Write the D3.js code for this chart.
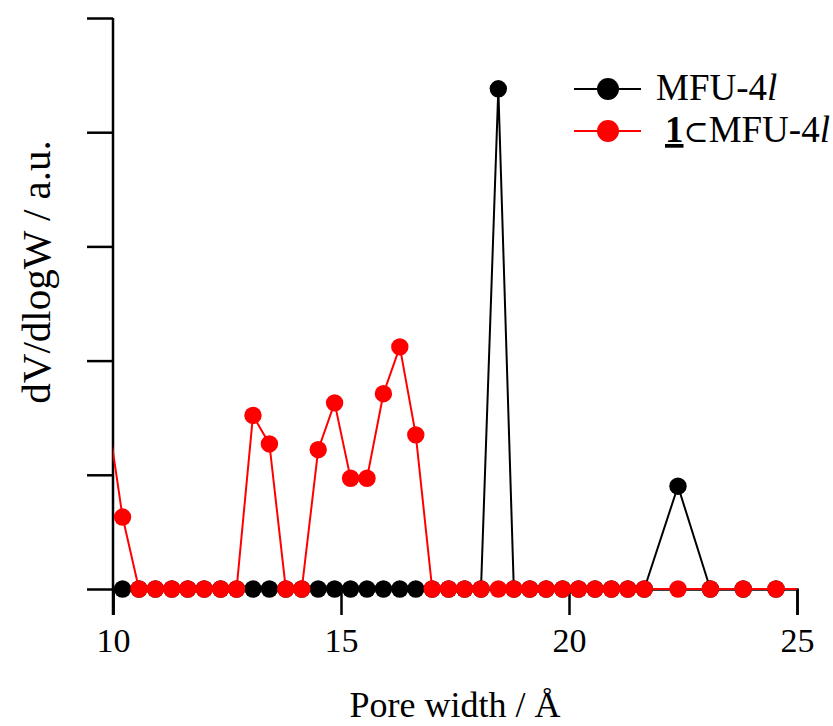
<!DOCTYPE html>
<html>
<head>
<meta charset="utf-8">
<script src="https://cdn.jsdelivr.net/npm/d3@7"></script>
<style>
  html, body { margin: 0; padding: 0; background: #fff; }
  svg { display: block; }
  svg text { font-family: "Liberation Serif", "Times New Roman", serif; fill: #000; }
</style>
</head>
<body>
<svg id="chart" width="833" height="726"></svg>
<script>
// ---- data ----
const poreWidth = [9.86, 10.21, 10.57, 10.93, 11.29, 11.64, 12.00, 12.36, 12.71, 13.07,
  13.43, 13.79, 14.14, 14.50, 14.86, 15.21, 15.57, 15.93, 16.29, 16.64,
  17.00, 17.36, 17.71, 18.07, 18.45, 18.79, 19.14, 19.50, 19.86, 20.21,
  20.57, 20.93, 21.29, 21.65, 22.39, 23.10, 23.82, 24.54, 25.25];
const mfu4l = [0, 0, 0, 0, 0, 0, 0, 0, 0, 0,
  0, 0, 0, 0, 0, 0, 0, 0, 0, 0,
  0, 0, 0, 0, 4.38, 0, 0, 0, 0, 0,
  0, 0, 0, 0, 0.90, 0, 0, 0, 0];
const oneInMfu4l = [1.58, 0.63, 0, 0, 0, 0, 0, 0, 0, 1.52,
  1.27, 0, 0, 1.22, 1.63, 0.97, 0.97, 1.71, 2.12, 1.35,
  0, 0, 0, 0, 0, 0, 0, 0, 0, 0,
  0, 0, 0, 0, 0, 0, 0, 0, 0];
const xTicks = [10, 15, 20, 25];
const yTicks = [0, 1, 2, 3, 4, 5];
const xDomain = [10, 25];
const yDomain = [0, 5];

// ---- layout ----
const mLeft = 113, mRight = 797, mTop = 18, mBottom = 589;
const svg = d3.select("#chart");
const x = d3.scaleLinear().domain(xDomain).range([mLeft, mRight]);
const y = d3.scaleLinear().domain(yDomain).range([mBottom, mTop]);

svg.append("defs").append("clipPath").attr("id", "plotclip")
  .append("rect").attr("x", mLeft).attr("y", 0).attr("width", mRight - mLeft).attr("height", mBottom + 20);

// x axis
const xAxis = svg.append("g").attr("transform", `translate(0,${mBottom})`)
  .call(d3.axisBottom(x).tickValues(xTicks).tickSize(26).tickPadding(13).tickFormat(d3.format("d")));
xAxis.attr("font-family", null).attr("font-size", null);
xAxis.select(".domain").attr("stroke", "#000").attr("stroke-width", 2.5);
xAxis.selectAll(".tick line").attr("stroke", "#000").attr("stroke-width", 2.5);
xAxis.selectAll(".tick text").style("font-family", "Liberation Serif").style("font-size", "34px");

// y axis
const yAxis = svg.append("g").attr("transform", `translate(${mLeft},0)`)
  .call(d3.axisLeft(y).tickValues(yTicks).tickSize(26).tickFormat(""));
yAxis.select(".domain").remove();
yAxis.selectAll(".tick line").attr("stroke", "#000").attr("stroke-width", 2.5);
svg.append("line").attr("x1", mLeft).attr("x2", mLeft).attr("y1", mTop).attr("y2", mBottom + 26)
  .attr("stroke", "#000").attr("stroke-width", 2.5);

// axis titles
svg.append("text").attr("x", 455).attr("y", 717)
  .attr("text-anchor", "middle").style("font-size", "36px").text("Pore width / Å");
svg.append("text").attr("transform", `translate(50,272) rotate(-90)`)
  .attr("text-anchor", "middle").style("font-size", "41px").text("dV/dlogW / a.u.");

// series
const series = [
  { name: "MFU-4l", values: mfu4l, color: "#000" },
  { name: "1⊂MFU-4l", values: oneInMfu4l, color: "#ff0000" }
];
const plot = svg.append("g").attr("clip-path", "url(#plotclip)");
const line = d3.line().x((d, i) => x(poreWidth[i])).y(d => y(d));
series.forEach(s => {
  const g = plot.append("g");
  g.append("path").datum(s.values).attr("d", line)
    .attr("fill", "none").attr("stroke", s.color).attr("stroke-width", 2);
  g.selectAll("circle").data(s.values.map((v, i) => ({ xv: poreWidth[i], v })).filter(d => d.xv >= xDomain[0] && d.xv <= xDomain[1]))
    .join("circle").attr("cx", d => x(d.xv)).attr("cy", d => y(d.v)).attr("r", 8.7).attr("fill", s.color);
});

// legend
const legendRows = [
  { y: 89, color: "#000" },
  { y: 131, color: "#ff0000" }
];
legendRows.forEach(r => {
  svg.append("line").attr("x1", 574).attr("x2", 641).attr("y1", r.y).attr("y2", r.y)
    .attr("stroke", r.color).attr("stroke-width", 2);
  svg.append("circle").attr("cx", 608).attr("cy", r.y).attr("r", 11).attr("fill", r.color);
});
const t1 = svg.append("text").attr("x", 656).attr("y", 100).style("font-size", "37px");
t1.append("tspan").text("MFU-4");
t1.append("tspan").style("font-style", "italic").text("l");
const t2 = svg.append("text").attr("x", 665).attr("y", 142).style("font-size", "37px");
t2.append("tspan").style("font-weight", "bold").style("text-decoration", "underline").text("1");
t2.append("tspan").style("font-family", '"DejaVu Serif", serif').style("font-size", "30px").text("⊂");
t2.append("tspan").style("font-family", "Liberation Serif").text("MFU-4");
t2.append("tspan").style("font-family", "Liberation Serif").style("font-style", "italic").text("l");
</script>
</body>
</html>
